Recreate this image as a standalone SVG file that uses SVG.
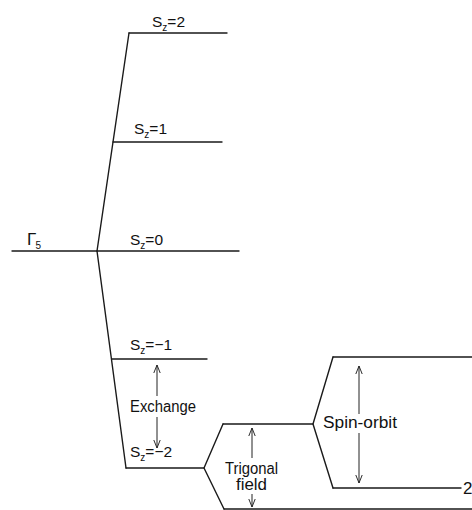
<svg xmlns="http://www.w3.org/2000/svg" width="472" height="510" viewBox="0 0 472 510">
<defs>
<style>
.lv{stroke:#1a1a1a;stroke-width:1.4;fill:none;stroke-linecap:round;stroke-linejoin:round}
.ar{stroke:#222;stroke-width:1;fill:none}
.t{font-family:"Liberation Sans",Arial,sans-serif;font-size:16px;fill:#111}
.s{font-family:"Liberation Sans",Arial,sans-serif;font-size:15.5px;fill:#111}
.sub{font-size:10px}
</style>
<marker id="ah" viewBox="0 0 10 10" refX="10" refY="5" markerWidth="8" markerHeight="8" markerUnits="userSpaceOnUse" orient="auto-start-reverse">
<path d="M0,1 L10,5 L0,9" fill="none" stroke="#222" stroke-width="1.2"/>
</marker>
</defs>
<rect width="472" height="510" fill="#fff"/>
<g id="gamma5">
<line class="lv" x1="12" y1="251" x2="97" y2="251"/>
<text class="t" x="27" y="245" style="font-size:17px">Γ<tspan class="sub" dx="-1" dy="4">5</tspan></text>
</g>
<g id="sz2">
<line class="lv" x1="129" y1="33" x2="227" y2="33"/>
<text class="s" x="152" y="27">S<tspan class="sub" dy="4">z</tspan><tspan dy="-4">=2</tspan></text>
</g>
<g id="sz1">
<line class="lv" x1="113" y1="142" x2="222" y2="142"/>
<text class="s" x="134" y="134">S<tspan class="sub" dy="4">z</tspan><tspan dy="-4">=1</tspan></text>
</g>
<g id="sz0">
<line class="lv" x1="97" y1="251" x2="239" y2="251"/>
<text class="s" x="130" y="245">S<tspan class="sub" dy="4">z</tspan><tspan dy="-4">=0</tspan></text>
</g>
<g id="szm1">
<line class="lv" x1="112" y1="359" x2="207" y2="359"/>
<text class="s" x="130" y="350">S<tspan class="sub" dy="4">z</tspan><tspan dy="-4">=−1</tspan></text>
</g>
<g id="szm2">
<line class="lv" x1="126" y1="468" x2="204" y2="468"/>
<text class="s" x="130" y="457">S<tspan class="sub" dy="4">z</tspan><tspan dy="-4">=−2</tspan></text>
</g>
<g id="trig-upper">
<line class="lv" x1="223" y1="424" x2="313" y2="424"/>
</g>
<g id="trig-lower">
<line class="lv" x1="224" y1="509" x2="472" y2="509"/>
</g>
<g id="so-upper">
<line class="lv" x1="333" y1="357" x2="472" y2="357"/>
</g>
<g id="so-lower">
<line class="lv" x1="333" y1="488" x2="461" y2="488"/>
<text class="t" x="463" y="494" style="font-size:17px">2</text>
</g>
<g id="connectors">
<polyline class="lv" points="129,33 97,251 126,468"/>
<polyline class="lv" points="223,424 204,468 224,509"/>
<polyline class="lv" points="333,357 313,424 333,488"/>
<line class="ar" x1="157" y1="396" x2="157" y2="365" marker-end="url(#ah)"/>
<line class="ar" x1="157" y1="417" x2="157" y2="448" marker-end="url(#ah)"/>
<text class="t" x="130" y="412" textLength="66" lengthAdjust="spacingAndGlyphs">Exchange</text>
<line class="ar" x1="252" y1="458" x2="252" y2="428" marker-end="url(#ah)"/>
<line class="ar" x1="252" y1="494" x2="252" y2="507" marker-end="url(#ah)"/>
<text class="t" x="225" y="474" textLength="53" lengthAdjust="spacingAndGlyphs">Trigonal</text>
<text class="t" x="236" y="490" textLength="31" lengthAdjust="spacingAndGlyphs">field</text>
<line class="ar" x1="359" y1="414" x2="359" y2="366" marker-end="url(#ah)"/>
<line class="ar" x1="359" y1="433" x2="359" y2="483" marker-end="url(#ah)"/>
<text class="t" x="323" y="428" textLength="74" lengthAdjust="spacingAndGlyphs">Spin-orbit</text>
</g>
</svg>
